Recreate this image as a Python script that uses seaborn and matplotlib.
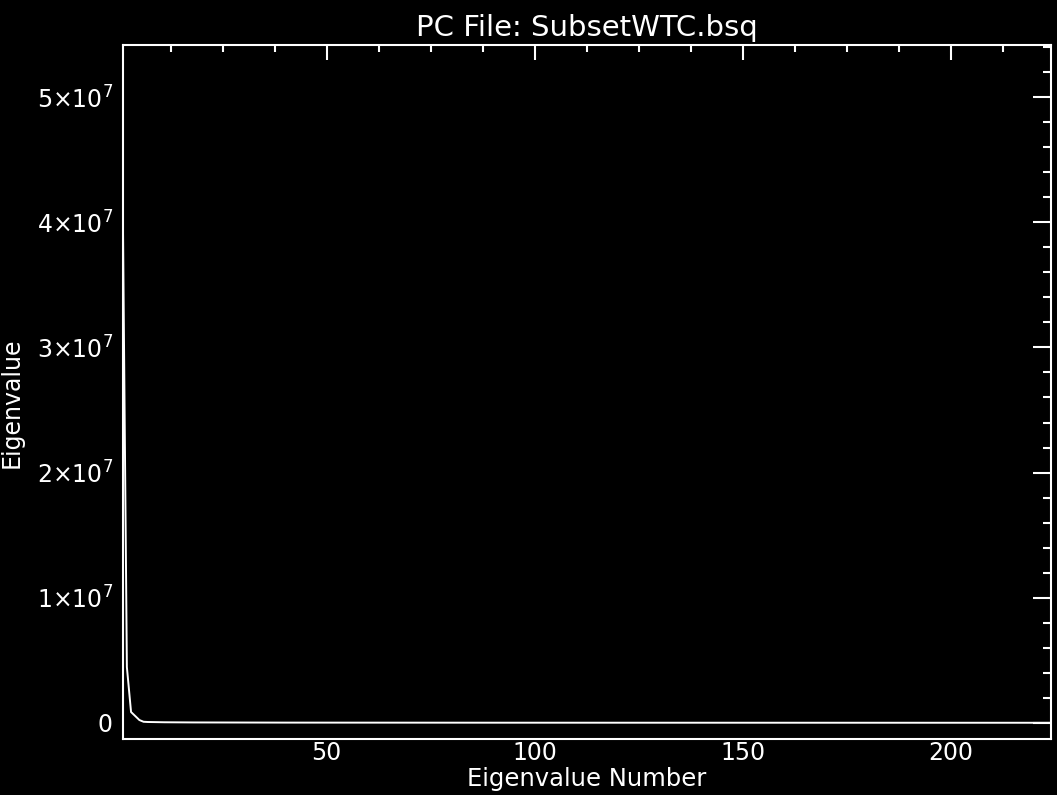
import numpy as np
import pandas as pd
import seaborn as sns
import matplotlib.pyplot as plt
from matplotlib.ticker import MultipleLocator, FuncFormatter

# eigenvalues (first six are the visible drop, rest sit on zero)
eig_head = [4.19e7, 4.45e6, 8.6e5, 5.4e5, 2.2e5, 8.0e4]
# tail in thousands - visually flat at zero in the original
eig_tail_k = [
    62, 55, 49, 44, 40, 37, 34, 32, 30, 28,
    27, 26, 25, 24, 23, 22, 21, 20, 19.5, 19,
    18.5, 18, 17.5, 17, 16.5, 16, 15.5, 15, 14.6, 14.2,
    13.8, 13.4, 13, 12.7, 12.4, 12.1, 11.8, 11.5, 11.2, 11,
    10.8, 10.6, 10.4, 10.2, 10, 9.8, 9.6, 9.4, 9.2, 9,
    8.9, 8.8, 8.7, 8.6, 8.5, 8.4, 8.3, 8.2, 8.1, 8,
    7.9, 7.8, 7.7, 7.6, 7.5, 7.4, 7.3, 7.2, 7.1, 7,
    6.9, 6.8, 6.7, 6.6, 6.5, 6.4, 6.3, 6.2, 6.1, 6,
    5.9, 5.8, 5.7, 5.6, 5.5, 5.4, 5.3, 5.2, 5.1, 5,
    4.9, 4.8, 4.7, 4.6, 4.5, 4.4, 4.3, 4.2, 4.1, 4,
    3.95, 3.9, 3.85, 3.8, 3.75, 3.7, 3.65, 3.6, 3.55, 3.5,
    3.45, 3.4, 3.35, 3.3, 3.25, 3.2, 3.15, 3.1, 3.05, 3,
    2.95, 2.9, 2.85, 2.8, 2.75, 2.7, 2.65, 2.6, 2.55, 2.5,
    2.45, 2.4, 2.35, 2.3, 2.25, 2.2, 2.15, 2.1, 2.05, 2,
    1.96, 1.92, 1.88, 1.84, 1.8, 1.76, 1.72, 1.68, 1.64, 1.6,
    1.56, 1.52, 1.48, 1.44, 1.4, 1.36, 1.32, 1.28, 1.24, 1.2,
    1.17, 1.14, 1.11, 1.08, 1.05, 1.02, 0.99, 0.96, 0.93, 0.9,
    0.88, 0.86, 0.84, 0.82, 0.8, 0.78, 0.76, 0.74, 0.72, 0.7,
    0.68, 0.66, 0.64, 0.62, 0.6, 0.58, 0.56, 0.54, 0.52, 0.5,
    0.48, 0.46, 0.44, 0.42, 0.4, 0.38, 0.36, 0.34, 0.32, 0.3,
    0.29, 0.28, 0.27, 0.26, 0.25, 0.24, 0.23, 0.22, 0.21, 0.2,
    0.18, 0.16, 0.14, 0.12, 0.1, 0.08, 0.06, 0.05,
]
y_ticks = [0, 1e7, 2e7, 3e7, 4e7, 5e7]
x_ticks = [50, 100, 150, 200]

title = "PC File: SubsetWTC.bsq"
x_label = "Eigenvalue Number"
y_label = "Eigenvalue"

eigenvalues = eig_head + [v * 1e3 for v in eig_tail_k]
df = pd.DataFrame({"band": np.arange(1, len(eigenvalues) + 1), "eig": eigenvalues})

sns.set_style("dark", {"axes.facecolor": "black", "figure.facecolor": "black",
                       "axes.edgecolor": "white", "text.color": "white",
                       "xtick.color": "white", "ytick.color": "white",
                       "axes.labelcolor": "white"})
plt.rcParams["font.family"] = ["DejaVu Sans"]

fig = plt.figure(figsize=(10.57, 7.95), dpi=100, facecolor="black")
ax = fig.add_axes([0.1161, 0.0704, 0.8782, 0.8734])
ax.set_facecolor("black")

sns.lineplot(data=df, x="band", y="eig", color="white", linewidth=1.4, ax=ax)

ax.set_xlim(1, 224)
ax.set_ylim(-1.3e6, 5.42e7)
ax.set_xticks(x_ticks)
ax.xaxis.set_minor_locator(MultipleLocator(12.5))
ax.set_yticks(y_ticks)
ax.yaxis.set_minor_locator(MultipleLocator(2e6))


def sci(v, pos):
    # IDL style 5x10^7 labels
    if v == 0:
        return "0"
    return r"%d$\times$10$^{7}$" % int(round(v / 1e7))


ax.yaxis.set_major_formatter(FuncFormatter(sci))

for s in ax.spines.values():
    s.set_visible(True)
    s.set_color("white")
    s.set_linewidth(1.5)
ax.grid(False)

ax.tick_params(axis="both", which="both", direction="in", top=True, right=True,
               colors="white", width=1.5, labelsize=17)
ax.tick_params(axis="x", which="major", length=10.5, pad=1.5)
ax.tick_params(axis="x", which="minor", length=5)
ax.tick_params(axis="y", which="major", length=13, pad=7)
ax.tick_params(axis="y", which="minor", length=6)

ax.set_title(title, color="white", fontsize=21, pad=6)
ax.set_xlabel(x_label, color="white", fontsize=17.5, labelpad=1)
ax.set_ylabel("")
fig.text(0.0, 392 / 795, y_label, rotation=90, ha="left", va="center",
         color="white", fontsize=17)

fig.savefig("out.png", dpi=100, facecolor="black")
